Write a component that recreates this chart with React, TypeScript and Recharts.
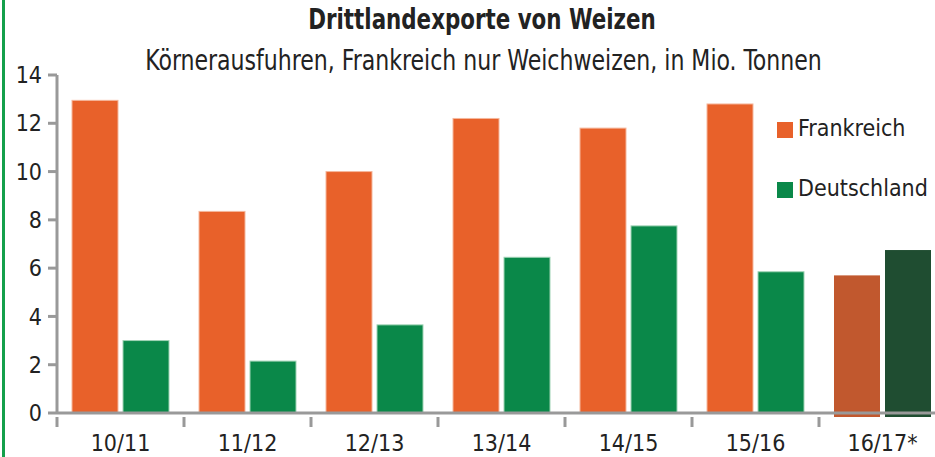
import React from "react";
import { BarChart, Bar, XAxis, YAxis } from "recharts";

const seasons = ["10/11", "11/12", "12/13", "13/14", "14/15", "15/16", "16/17*"];
const frankreich = [12.95, 8.35, 10.0, 12.2, 11.8, 12.8, 5.7];
const deutschland = [3.0, 2.15, 3.65, 6.45, 7.75, 5.85, 6.75];
const yTicks = [0, 2, 4, 6, 8, 10, 12, 14];

const data = seasons.map((season, i) => ({
  season,
  frankreich: frankreich[i],
  deutschland: deutschland[i],
}));

const FONT = '"Liberation Sans Narrow", "DejaVu Sans Condensed", "Roboto", sans-serif';
const ORANGE = "#e8612a";
const GREEN = "#0a8849";
const ORANGE_DARK = "#c1582e";
const GREEN_DARK = "#1f4d31";
const AXIS = "#999999";
const TEXT = "#222222";

const CHART_W = 946;
const CHART_H = 457;
const Y_AXIS_W = 57;
const BAND = (CHART_W - Y_AXIS_W) / seasons.length;
const LAST = seasons.length - 1;

function SeasonTick(props: any) {
  const { x, y, payload } = props;
  const left = x - BAND / 2;
  return (
    <g>
      <line x1={left} x2={left} y1={y - 4} y2={y + 6} stroke={AXIS} strokeWidth={3} />
      <text x={x} y={y + 30} textAnchor="middle" fontSize={23} fill={TEXT} fontFamily={FONT}>
        {payload.value}
      </text>
    </g>
  );
}

export default function App() {
  return (
    <div
      style={{
        position: "absolute",
        left: 0,
        top: 0,
        width: 935,
        height: 457,
        overflow: "hidden",
        background: "#fff",
        fontFamily: FONT,
        color: TEXT,
      }}
    >
      <div style={{ position: "absolute", left: 2, top: 0, width: 3, height: 457, background: "#14a04b" }} />
      <div
        style={{
          position: "absolute",
          left: 0,
          width: 964,
          top: 2,
          textAlign: "center",
          fontSize: 29,
          fontWeight: "bold",
          whiteSpace: "nowrap",
          transform: "scaleX(0.82)",
          transformOrigin: "482px 0",
        }}
      >
        Drittlandexporte von Weizen
      </div>
      <div
        style={{
          position: "absolute",
          left: 0,
          width: 967,
          top: 44,
          textAlign: "center",
          fontSize: 28,
          whiteSpace: "nowrap",
          transform: "scaleX(0.875)",
          transformOrigin: "483.5px 0",
        }}
      >
        Körnerausfuhren, Frankreich nur Weichweizen, in Mio. Tonnen
      </div>

      <div style={{ position: "absolute", left: 0, top: 0 }}>
        <BarChart
          width={CHART_W}
          height={CHART_H}
          data={data}
          margin={{ top: 75, right: 0, bottom: 0, left: 0 }}
          barCategoryGap={15}
          barGap={5}
        >
          <XAxis
            dataKey="season"
            height={44}
            tickLine={false}
            axisLine={{ stroke: AXIS, strokeWidth: 3 }}
            tick={<SeasonTick />}
            interval={0}
          />
          <YAxis
            width={Y_AXIS_W}
            domain={[0, 14]}
            ticks={yTicks}
            tickSize={9}
            tickLine={{ stroke: AXIS, strokeWidth: 3 }}
            axisLine={{ stroke: AXIS, strokeWidth: 3 }}
            tick={{ fill: TEXT, fontSize: 23, fontFamily: FONT }}
            tickMargin={6}
          />
          <Bar
            dataKey="frankreich"
            isAnimationActive={false}
            shape={(p: any) => (
              <rect
                x={p.x}
                y={p.y}
                width={p.width}
                height={p.index === LAST ? p.height + 4 : p.height}
                fill={p.index === LAST ? ORANGE_DARK : ORANGE}
                stroke={p.index === LAST ? "none" : "#f5b79c"}
              />
            )}
          />
          <Bar
            dataKey="deutschland"
            isAnimationActive={false}
            shape={(p: any) => (
              <rect
                x={p.x}
                y={p.y}
                width={p.width}
                height={p.index === LAST ? p.height + 4 : p.height}
                fill={p.index === LAST ? GREEN_DARK : GREEN}
                stroke={p.index === LAST ? "none" : "#9fd3b5"}
              />
            )}
          />
        </BarChart>
      </div>

      <div style={{ position: "absolute", left: 777, top: 122, width: 16, height: 16, background: ORANGE }} />
      <div style={{ position: "absolute", left: 798, top: 115, fontSize: 23, whiteSpace: "nowrap" }}>Frankreich</div>
      <div style={{ position: "absolute", left: 777, top: 182, width: 16, height: 16, background: GREEN }} />
      <div style={{ position: "absolute", left: 798, top: 175, fontSize: 23, whiteSpace: "nowrap" }}>Deutschland</div>
    </div>
  );
}
